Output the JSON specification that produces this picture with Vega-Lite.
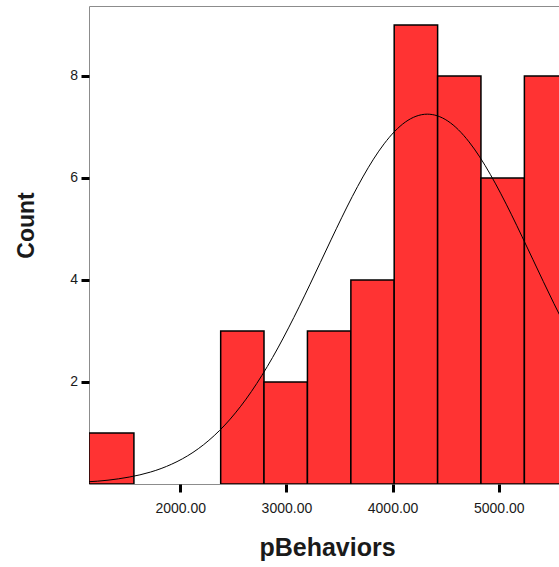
{
  "$schema": "https://vega.github.io/schema/vega-lite/v6.json",
  "autosize": "none",
  "width": 470,
  "height": 478,
  "padding": {"left": 89, "top": 6, "right": 0, "bottom": 83},
  "background": "white",
  "config": {
    "view": {"stroke": "#8c8c8c", "strokeWidth": 1},
    "axis": {
      "labelFont": "Liberation Sans",
      "labelFontSize": 14,
      "labelColor": "#1a1a1a",
      "titleFont": "Liberation Sans",
      "titleFontWeight": "bold",
      "titleColor": "#1a1a1a",
      "tickColor": "#000000",
      "tickWidth": 3,
      "tickSize": 8,
      "domain": false,
      "grid": false
    }
  },
  "datasets": {
    "bins": [
      {"bin_start": 1141, "bin_end": 1564, "count": 1},
      {"bin_start": 2381, "bin_end": 2789, "count": 3},
      {"bin_start": 2789, "bin_end": 3198, "count": 2},
      {"bin_start": 3198, "bin_end": 3607, "count": 3},
      {"bin_start": 3607, "bin_end": 4015, "count": 4},
      {"bin_start": 4015, "bin_end": 4424, "count": 9},
      {"bin_start": 4424, "bin_end": 4832, "count": 8},
      {"bin_start": 4832, "bin_end": 5241, "count": 6},
      {"bin_start": 5241, "bin_end": 5650, "count": 8}
    ],
    "curve": [
      {"x": 1100, "y": 0.04}, {"x": 1220, "y": 0.055}, {"x": 1320, "y": 0.075},
      {"x": 1420, "y": 0.102}, {"x": 1520, "y": 0.136}, {"x": 1620, "y": 0.179},
      {"x": 1720, "y": 0.234}, {"x": 1820, "y": 0.303}, {"x": 1920, "y": 0.389},
      {"x": 2020, "y": 0.493}, {"x": 2120, "y": 0.619}, {"x": 2220, "y": 0.77},
      {"x": 2320, "y": 0.948}, {"x": 2420, "y": 1.155}, {"x": 2520, "y": 1.394},
      {"x": 2620, "y": 1.664}, {"x": 2720, "y": 1.968}, {"x": 2820, "y": 2.302},
      {"x": 2920, "y": 2.667}, {"x": 3020, "y": 3.06}, {"x": 3120, "y": 3.473},
      {"x": 3220, "y": 3.904}, {"x": 3320, "y": 4.344}, {"x": 3420, "y": 4.785},
      {"x": 3520, "y": 5.218}, {"x": 3620, "y": 5.633}, {"x": 3720, "y": 6.019},
      {"x": 3820, "y": 6.368}, {"x": 3920, "y": 6.668}, {"x": 4020, "y": 6.913},
      {"x": 4120, "y": 7.095}, {"x": 4220, "y": 7.208}, {"x": 4327, "y": 7.25},
      {"x": 4420, "y": 7.218}, {"x": 4520, "y": 7.115}, {"x": 4620, "y": 6.943},
      {"x": 4720, "y": 6.706}, {"x": 4820, "y": 6.413}, {"x": 4920, "y": 6.07},
      {"x": 5020, "y": 5.688}, {"x": 5120, "y": 5.277}, {"x": 5220, "y": 4.846},
      {"x": 5320, "y": 4.406}, {"x": 5420, "y": 3.966}, {"x": 5520, "y": 3.534},
      {"x": 5620, "y": 3.116}
    ]
  },
  "layer": [
    {
      "data": {"name": "bins"},
      "mark": {"type": "bar", "fill": "#ff3333", "stroke": "#000000", "strokeWidth": 1.5, "clip": true},
      "encoding": {
        "x": {
          "field": "bin_start", "type": "quantitative",
          "scale": {"domain": [1141, 5567], "nice": false, "zero": false},
          "axis": {
            "values": [2000, 3000, 4000, 5000],
            "format": ".2f",
            "labelPadding": 9,
            "title": "pBehaviors",
            "titleFontSize": 25,
            "titleX": 238,
            "titleY": 71,
            "titleAnchor": null,
            "titleAlign": "center",
            "titleBaseline": "alphabetic"
          }
        },
        "x2": {"field": "bin_end"},
        "y": {
          "field": "count", "type": "quantitative",
          "scale": {"domain": [0, 9.37], "nice": false},
          "axis": {
            "values": [2, 4, 6, 8],
            "labelPadding": 3.5,
            "title": "Count",
            "titleFontSize": 23,
            "titleAngle": -90,
            "titleX": -56,
            "titleY": 219,
            "titleAlign": "center",
            "titleBaseline": "alphabetic"
          }
        },
        "y2": {"datum": 0}
      }
    },
    {
      "data": {"name": "curve"},
      "mark": {"type": "line", "stroke": "#000000", "strokeWidth": 1, "clip": true, "interpolate": "monotone"},
      "encoding": {
        "x": {"field": "x", "type": "quantitative"},
        "y": {"field": "y", "type": "quantitative"}
      }
    }
  ]
}
